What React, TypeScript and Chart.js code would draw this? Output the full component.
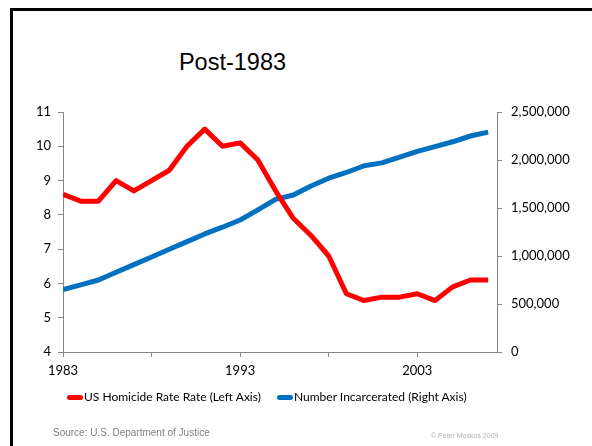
import React, { useEffect, useRef } from "react";
import { Chart, registerables } from "chart.js";

Chart.register(...registerables);

const years = [
  1983, 1984, 1985, 1986, 1987, 1988, 1989, 1990, 1991, 1992, 1993, 1994, 1995,
  1996, 1997, 1998, 1999, 2000, 2001, 2002, 2003, 2004, 2005, 2006, 2007,
];
const homicideRate = [
  8.6, 8.4, 8.4, 9.0, 8.7, 9.0, 9.3, 10.0, 10.5, 10.0, 10.1, 9.6, 8.7, 7.9, 7.4,
  6.8, 5.7, 5.5, 5.6, 5.6, 5.7, 5.5, 5.9, 6.1, 6.1,
];
const incarcerated = [
  650000, 700000, 750000, 830000, 910000, 990000, 1070000, 1150000, 1230000,
  1300000, 1375000, 1480000, 1590000, 1635000, 1730000, 1810000, 1870000,
  1940000, 1970000, 2030000, 2090000, 2140000, 2190000, 2250000, 2290000,
];
const xTickYears = [1983, 1988, 1993, 1998, 2003];
const xLabelYears = [1983, 1993, 2003];
const titleText = "Post-1983";
const seriesNames = [
  "US Homicide Rate Rate (Left Axis)",
  "Number Incarcerated (Right Axis)",
];
const sourceText = "Source: U.S. Department of Justice";
const copyrightText = "\u00a9 Peter Moskos 2009";

const RED = "#FF0000";
const BLUE = "#0070C0";
const AXIS = "#868686";
const TICK_FONT = { family: "Lato, 'Open Sans', sans-serif", size: 13 };

export default function App() {
  const canvasRef = useRef<HTMLCanvasElement | null>(null);

  useEffect(() => {
    const canvas = canvasRef.current;
    if (!canvas) return;
    const chart = new Chart(canvas, {
      type: "line",
      data: {
        datasets: [
          {
            label: seriesNames[0],
            data: years.map((y, i) => ({ x: y, y: homicideRate[i] })),
            borderColor: RED,
            backgroundColor: RED,
            borderWidth: 5,
            pointRadius: 0,
            tension: 0,
            yAxisID: "y",
            borderJoinStyle: "round",
          },
          {
            label: seriesNames[1],
            data: years.map((y, i) => ({ x: y, y: incarcerated[i] })),
            borderColor: BLUE,
            backgroundColor: BLUE,
            borderWidth: 5,
            pointRadius: 0,
            tension: 0,
            yAxisID: "y1",
            borderJoinStyle: "round",
          },
        ],
      },
      options: {
        animation: false,
        responsive: false,
        maintainAspectRatio: false,
        layout: { padding: { left: 0, right: 0, top: 112, bottom: 64 } },
        plugins: {
          legend: { display: false },
          title: { display: false },
          tooltip: { enabled: false },
        },
        scales: {
          x: {
            type: "linear",
            min: 1983,
            max: 2007.5,
            afterBuildTicks: (scale: any) => {
              scale.ticks = xTickYears.map((v) => ({ value: v }));
            },
            afterFit: (scale: any) => {
              scale.height = 30;
            },
            ticks: {
              autoSkip: false,
              maxRotation: 0,
              padding: 6,
              color: "#000",
              font: TICK_FONT,
              callback: (v: any) =>
                xLabelYears.includes(Number(v)) ? String(v) : "",
            },
            grid: {
              display: true,
              drawOnChartArea: false,
              drawTicks: true,
              tickLength: 5,
              color: AXIS,
            },
            border: { display: true, color: AXIS },
          },
          y: {
            type: "linear",
            position: "left",
            min: 4,
            max: 11,
            afterFit: (scale: any) => {
              scale.width = 63;
            },
            ticks: {
              stepSize: 1,
              padding: 7,
              color: "#000",
              font: TICK_FONT,
            },
            grid: {
              display: true,
              drawOnChartArea: false,
              drawTicks: true,
              tickLength: 5,
              color: AXIS,
            },
            border: { display: true, color: AXIS },
          },
          y1: {
            type: "linear",
            position: "right",
            min: 0,
            max: 2500000,
            afterFit: (scale: any) => {
              scale.width = 95;
            },
            ticks: {
              stepSize: 500000,
              padding: 9,
              color: "#000",
              font: TICK_FONT,
              callback: (v: any) => Number(v).toLocaleString("en-US"),
            },
            grid: {
              display: true,
              drawOnChartArea: false,
              drawTicks: true,
              tickLength: 5,
              color: AXIS,
            },
            border: { display: true, color: AXIS },
          },
        },
      },
    });
    return () => chart.destroy();
  }, []);

  const legendText: React.CSSProperties = {
    position: "absolute",
    top: 388,
    height: 18,
    lineHeight: "18px",
    fontFamily: "Lato, 'Open Sans', sans-serif",
    fontSize: 12,
    color: "#000",
    whiteSpace: "nowrap",
  };
  const swatch = (left: number, color: string): React.CSSProperties => ({
    position: "absolute",
    left,
    top: 395,
    width: 16,
    height: 5,
    borderRadius: 2.5,
    background: color,
  });

  return (
    <div
      style={{
        position: "fixed",
        left: 0,
        top: 0,
        width: 592,
        height: 446,
        background: "#fff",
        overflow: "hidden",
      }}
    >
      <div
        style={{
          position: "absolute",
          left: 10,
          top: 8,
          width: 700,
          height: 600,
          borderLeft: "3px solid #000",
          borderTop: "3px solid #000",
        }}
      />
      <div
        style={{
          position: "absolute",
          left: 0,
          width: 465,
          top: 47,
          lineHeight: "30px",
          textAlign: "center",
          fontFamily: "'Liberation Sans', Arial, sans-serif",
          fontSize: 23.5,
          color: "#000",
        }}
      >
        {titleText}
      </div>
      <canvas
        ref={canvasRef}
        width={592}
        height={446}
        style={{ position: "absolute", left: 0, top: 0, width: 592, height: 446 }}
      />
      <div style={swatch(67, RED)} />
      <div style={{ ...legendText, left: 84 }}>{seriesNames[0]}</div>
      <div style={swatch(277, BLUE)} />
      <div style={{ ...legendText, left: 294 }}>{seriesNames[1]}</div>
      <div
        style={{
          position: "absolute",
          left: 53,
          top: 426,
          lineHeight: "14px",
          fontFamily: "'Liberation Sans', Arial, sans-serif",
          fontSize: 10,
          color: "#808080",
          whiteSpace: "nowrap",
        }}
      >
        {sourceText}
      </div>
      <div
        style={{
          position: "absolute",
          left: 431,
          top: 431,
          lineHeight: "10px",
          fontFamily: "'Liberation Sans', Arial, sans-serif",
          fontSize: 7,
          color: "#b0b0b0",
          whiteSpace: "nowrap",
        }}
      >
        {copyrightText}
      </div>
    </div>
  );
}
